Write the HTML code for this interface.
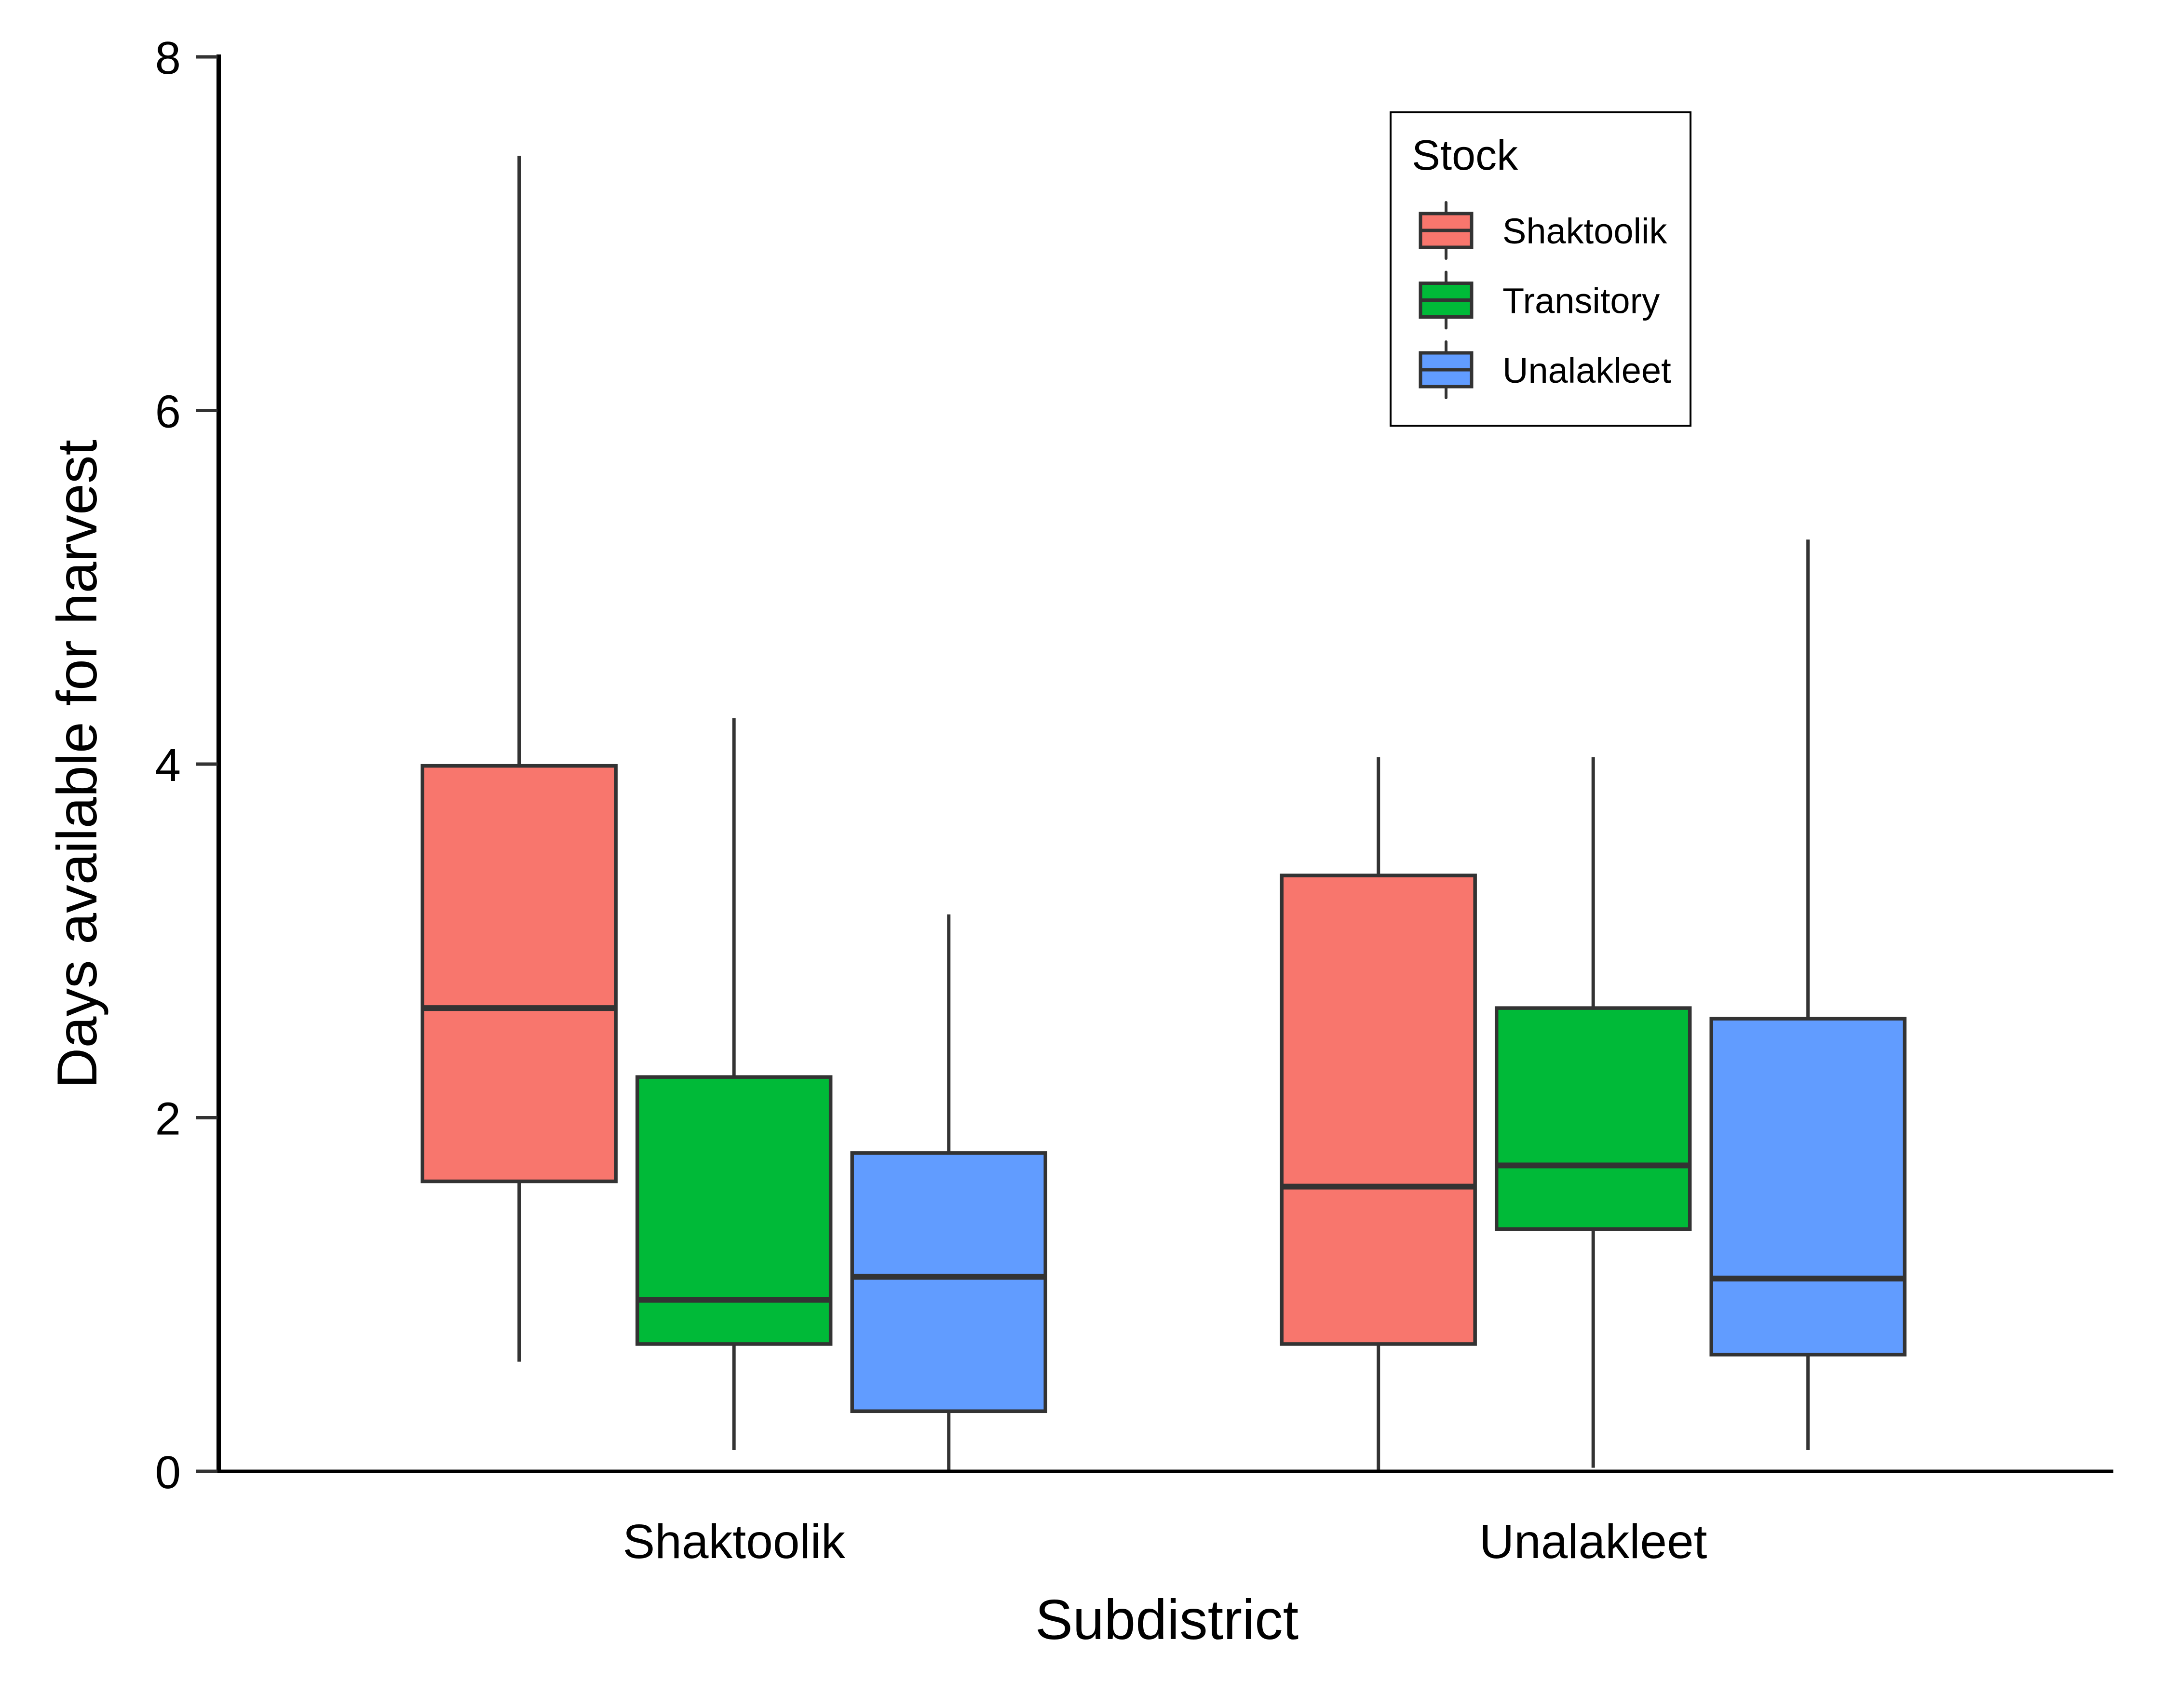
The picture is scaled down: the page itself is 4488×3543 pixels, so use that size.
<!DOCTYPE html>
<html><head><meta charset="utf-8"><style>
html,body{margin:0;padding:0;background:#fff}
svg{display:block}
text{font-family:"Liberation Sans",Arial,sans-serif}
</style></head><body>
<svg id="chart" width="4488" height="3543" viewBox="0 0 4488 3543">
<g id="plot"></g>
<line x1="453.5" y1="113" x2="453.5" y2="3056" stroke="#000" stroke-width="9"/>
<line x1="449" y1="3052" x2="4383" y2="3052" stroke="#000" stroke-width="7"/>
<g id="yticks"></g>
<g id="xticks"></g>
<text x="2420" y="3400" font-size="117" text-anchor="middle">Subdistrict</text>
<text transform="translate(200,1585) rotate(-90)" font-size="117" text-anchor="middle">Days available for harvest</text>
<g>
<rect x="2884" y="233" width="622" height="650" fill="#fff" stroke="#000" stroke-width="4"/>
<text x="2928" y="352" font-size="88">Stock</text>
<g id="legend-entries"></g>
</g>
</svg>
<script>
const groups = ["Shaktoolik", "Unalakleet"];
const stocks = ["Shaktoolik", "Transitory", "Unalakleet"];
const colors = ["#F8766D", "#00BA38", "#619CFF"];
const yTicks = [0, 2, 4, 6, 8];
// per group, per stock: [lower whisker, Q1, median, Q3, upper whisker]
const shaktoolikStats = [
  [0.62, 1.64, 2.62, 3.99, 7.44],
  [0.12, 0.72, 0.97, 2.23, 4.26],
  [0.00, 0.34, 1.10, 1.80, 3.15]
];
const unalakleetStats = [
  [0.00, 0.72, 1.61, 3.37, 4.04],
  [0.02, 1.37, 1.73, 2.62, 4.04],
  [0.12, 0.66, 1.09, 2.56, 5.27]
];
const allStats = [shaktoolikStats, unalakleetStats];

const NS = "http://www.w3.org/2000/svg";
const y = v => 3052 - v * 366.75;
const unit = 1782;
const xCenter = i => 453 + unit * (0.6 + i);
const dodge = unit * 0.25;
const boxW = dodge * 0.9;
function mk(tag, attrs, parent) {
  const e = document.createElementNS(NS, tag);
  for (const k in attrs) e.setAttribute(k, attrs[k]);
  parent.appendChild(e);
  return e;
}
const plot = document.getElementById("plot");
allStats.forEach((grp, gi) => {
  grp.forEach((s, si) => {
    const cx = xCenter(gi) + (si - 1) * dodge;
    const g = mk("g", {}, plot);
    
    
    const w1 = mk("line", {x1: cx, x2: cx, y1: y(s[3]), y2: y(s[4]), stroke: "#333", "stroke-width": 7}, g);
    
    
    const w2 = mk("line", {x1: cx, x2: cx, y1: y(s[0]), y2: y(s[1]), stroke: "#333", "stroke-width": 7}, g);
    
    
    const r = mk("rect", {x: cx - boxW / 2, y: y(s[3]), width: boxW, height: y(s[1]) - y(s[3]), fill: colors[si], stroke: "#333", "stroke-width": 7.5}, g);
    
    
    const m = mk("line", {x1: cx - boxW / 2, x2: cx + boxW / 2, y1: y(s[2]), y2: y(s[2]), stroke: "#333", "stroke-width": 12}, g);
    
    
  });
});
const yt = document.getElementById("yticks");
yTicks.forEach(v => {
  const l = mk("line", {x1: 406, x2: 451, y1: y(v), y2: y(v), stroke: "#333", "stroke-width": 7}, yt);
  
  
  const t = mk("text", {x: 375, y: y(v) + 35, "font-size": 96, "text-anchor": "end"}, yt);
  t.textContent = v;
  
  
});
const xt = document.getElementById("xticks");
groups.forEach((gname, gi) => {
  const t = mk("text", {x: xCenter(gi), y: 3232, "font-size": 100, "text-anchor": "middle"}, xt);
  t.textContent = gname;
  
  
});
const le = document.getElementById("legend-entries");
stocks.forEach((s, i) => {
  const cy = 478 + i * 144.5;
  const g = mk("g", {}, le);
  
  
  mk("line", {x1: 2999, x2: 2999, y1: cy - 58, y2: cy + 58, stroke: "#333", "stroke-width": 6, "stroke-linecap": "round"}, g);
  mk("rect", {x: 2946, y: cy - 35, width: 106, height: 70, fill: colors[i], stroke: "#333", "stroke-width": 7}, g);
  mk("line", {x1: 2946, x2: 3052, y1: cy, y2: cy, stroke: "#333", "stroke-width": 7}, g);
  const t = mk("text", {x: 3116, y: cy + 27, "font-size": 74}, g);
  t.textContent = s;
});
</script>
</body></html>
